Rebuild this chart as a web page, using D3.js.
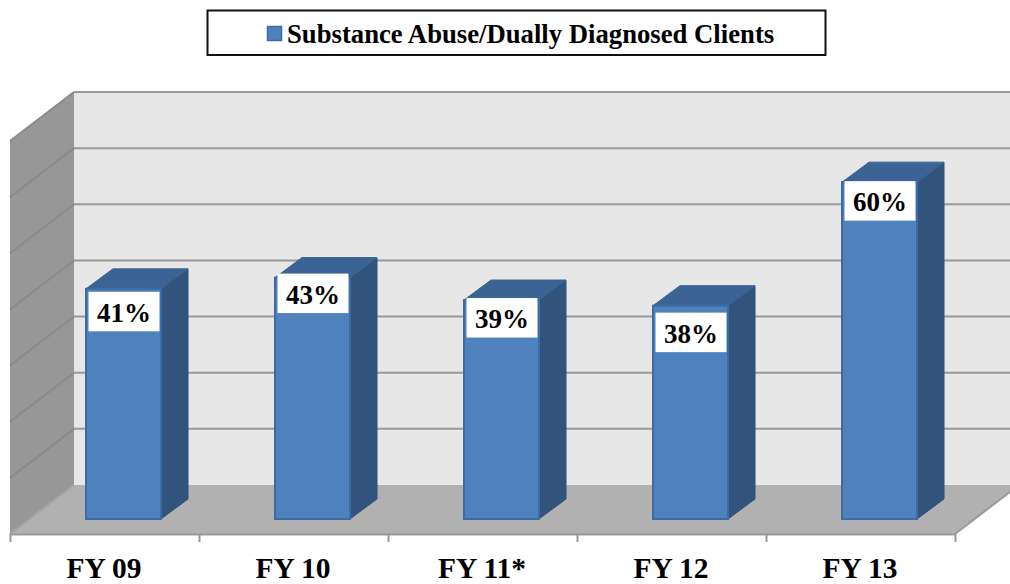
<!DOCTYPE html>
<html><head><meta charset="utf-8">
<script src="https://cdnjs.cloudflare.com/ajax/libs/d3/7.8.5/d3.min.js"></script>
<style>html,body{margin:0;padding:0;background:#fff}svg{display:block}text{font-family:"Liberation Serif",serif;font-weight:bold;fill:#000}</style>
</head><body><svg id="c" width="1010" height="584"></svg>
<script>
const categories = ["FY 09","FY 10","FY 11*","FY 12","FY 13"];
const values = [41,43,39,38,60];
const seriesName = "Substance Abuse/Dually Diagnosed Clients";
const gridTicks = [0,10,20,30,40,50,60,70];

const svg = d3.select("#c");
const depthX=64, depthY=49;           // wall/floor depth
const barDX=27, barDY=20;             // bar depth
const x = d3.scaleBand().domain(categories).range([10,955]);
const edge = d3.scaleLinear().domain([0,categories.length]).range([10,955]);
const yFront = d3.scaleLinear().domain([0,70]).range([534,141]);
const yBack = d3.scaleLinear().domain([0,70]).range([485,92]);
const yBar = d3.scaleLinear().domain([0,70]).range([519,126]);
const poly=p=>p.map(d=>d.join(",")).join(" ");

const left=10,right=955,bl=left+depthX,br=right+depthX;
// back wall
svg.append("polygon").attr("points",poly([[bl,yBack(70)],[br,yBack(70)],[br,yBack(0)],[bl,yBack(0)]])).attr("fill","#e7e7e7");
// left wall
svg.append("polygon").attr("points",poly([[left,yFront(70)],[bl,yBack(70)],[bl,yBack(0)],[left,yFront(0)]])).attr("fill","#979797");
// floor
svg.append("polygon").attr("points",poly([[bl,yBack(0)],[br,yBack(0)],[right,yFront(0)],[left,yFront(0)]])).attr("fill","#b1b1b1");
// gridlines
const grid=svg.append("g").attr("fill","none").attr("stroke","#999").attr("stroke-width",2);
gridTicks.filter(t=>t>0).forEach(t=>{
  grid.append("line").attr("x1",bl).attr("x2",br).attr("y1",yBack(t)).attr("y2",yBack(t));
  grid.append("line").attr("x1",left).attr("x2",bl).attr("y1",yFront(t)).attr("y2",yBack(t)).attr("stroke","#8a8a8a");
});
grid.append("line").attr("x1",left).attr("x2",bl).attr("y1",yFront(0)).attr("y2",yBack(0)).attr("stroke","#a5a5a5");
grid.append("line").attr("x1",right).attr("x2",br).attr("y1",yFront(0)).attr("y2",yBack(0));

// x axis
const axis=d3.axisBottom(edge).tickValues(d3.range(categories.length+1)).tickFormat("").tickSize(8).tickSizeOuter(0);
const ag=svg.append("g").attr("transform",`translate(0,${yFront(0)})`).call(axis);
ag.selectAll("path,line").attr("stroke","#999").attr("stroke-width",2);

// bars
const barOff=76, barW=75;
const bars=svg.append("g").selectAll("g").data(categories.map((c,i)=>({c,v:values[i]}))).join("g");
bars.each(function(d){
  const g=d3.select(this),x0=x(d.c)+barOff,x1=x0+barW,yt=yBar(d.v),yb=yBar(0);
  g.append("polygon").attr("points",poly([[x1,yt],[x1+barDX,yt-barDY],[x1+barDX,yb-barDY],[x1,yb]])).attr("fill","#32547c").attr("stroke","#2f5078").attr("stroke-width",1);
  g.append("polygon").attr("points",poly([[x0,yt],[x0+barDX,yt-barDY],[x1+barDX,yt-barDY],[x1,yt]])).attr("fill","#3b6494").attr("stroke","#3a6291").attr("stroke-width",1);
  g.append("rect").attr("x",x0).attr("y",yt).attr("width",barW).attr("height",yb-yt).attr("fill","#4f81bd").attr("stroke","#3c6ca3").attr("stroke-width",2);
});

// value labels
const labelShift={"FY 09":23,"FY 10":16,"FY 11*":18,"FY 12":27,"FY 13":19};
const labels=svg.append("g");
categories.forEach((c,i)=>{
  const cx=x(c)+barOff+barW/2, cy=yBar(values[i])+labelShift[c];
  labels.append("rect").attr("x",cx-35).attr("y",cy-20).attr("width",71).attr("height",39.5).attr("fill","#fff");
  labels.append("text").attr("x",cx+0.5).attr("y",cy+10).attr("text-anchor","middle").attr("font-size",27).text(values[i]+"%");
});

// category labels
svg.append("g").selectAll("text").data(categories).join("text")
  .attr("x",d=>x(d)+x.bandwidth()/2-0.5).attr("y",578).attr("text-anchor","middle").attr("font-size",29.5).text(d=>d);

// legend
const lg=svg.append("g");
lg.append("rect").attr("x",207.5).attr("y",10.5).attr("width",618).attr("height",44.5).attr("fill","#fff").attr("stroke","#111").attr("stroke-width",2);
lg.append("rect").attr("x",267.5).attr("y",26.5).attr("width",14).attr("height",14).attr("fill","#4f81bd").attr("stroke","#3c6ca3").attr("stroke-width",1.5);
lg.append("text").attr("x",287).attr("y",43).attr("font-size",26.7).text(seriesName);
</script></body></html>
